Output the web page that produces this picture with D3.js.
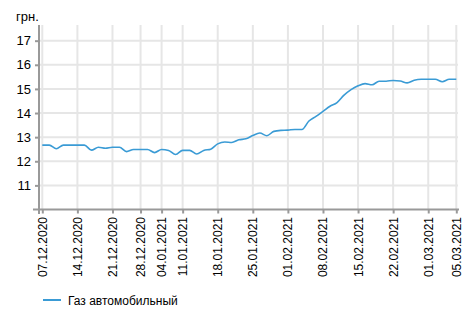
<!DOCTYPE html>
<html><head><meta charset="utf-8">
<script src="https://cdn.jsdelivr.net/npm/d3@7"></script>
<style>body{margin:0;background:#fff}svg{display:block}text{font-family:"Liberation Sans",Arial,sans-serif;fill:#000}</style>
</head><body>
<svg id="c" width="473" height="319"></svg>
<script>
const dates = ["07.12.2020","08.12.2020","09.12.2020","10.12.2020","11.12.2020",
"14.12.2020","15.12.2020","16.12.2020","17.12.2020","18.12.2020",
"21.12.2020","22.12.2020","23.12.2020","24.12.2020",
"28.12.2020","29.12.2020","30.12.2020",
"04.01.2021","05.01.2021","06.01.2021",
"11.01.2021","12.01.2021","13.01.2021","14.01.2021","15.01.2021",
"18.01.2021","19.01.2021","20.01.2021","21.01.2021","22.01.2021",
"25.01.2021","26.01.2021","27.01.2021","28.01.2021","29.01.2021",
"01.02.2021","02.02.2021","03.02.2021","04.02.2021","05.02.2021",
"08.02.2021","09.02.2021","10.02.2021","11.02.2021","12.02.2021",
"15.02.2021","16.02.2021","17.02.2021","18.02.2021","19.02.2021",
"22.02.2021","23.02.2021","24.02.2021","25.02.2021","26.02.2021",
"01.03.2021","02.03.2021","03.03.2021","04.03.2021","05.03.2021"];
const gasPrices = [12.67,12.67,12.52,12.67,12.67,
12.67,12.67,12.46,12.58,12.54,
12.58,12.58,12.40,12.49,
12.49,12.49,12.36,
12.49,12.45,12.28,
12.45,12.45,12.30,12.45,12.50,
12.72,12.80,12.78,12.89,12.93,
13.07,13.17,13.06,13.24,13.28,
13.29,13.32,13.32,13.67,13.86,
14.07,14.28,14.43,14.74,14.97,
15.13,15.22,15.17,15.32,15.32,
15.35,15.33,15.25,15.36,15.40,
15.40,15.40,15.30,15.40,15.40];
const xTickLabels = ["07.12.2020","14.12.2020","21.12.2020","28.12.2020","04.01.2021","11.01.2021","18.01.2021","25.01.2021","01.02.2021","08.02.2021","15.02.2021","22.02.2021","01.03.2021","05.03.2021"];
const yTicks = [11,12,13,14,15,16,17];
const seriesName = "Газ автомобильный";
const unitLabel = "грн.";

const svg = d3.select("#c");
const x = d3.scalePoint().domain(dates).range([42.3, 456.3]);
const y = d3.scaleLinear().domain([10, 17.65]).range([209.5, 25]);

// grid
const g = svg.append("g");
g.selectAll(".hg").data(yTicks).join("line")
 .attr("x1", 40).attr("x2", 458).attr("y1", d => y(d)).attr("y2", d => y(d))
 .attr("stroke", "#e6e6e6").attr("stroke-width", 2);
g.selectAll(".vg").data(xTickLabels).join("line")
 .attr("x1", d => x(d)).attr("x2", d => x(d)).attr("y1", 25).attr("y2", 209)
 .attr("stroke", "#e6e6e6").attr("stroke-width", 2);

// line
svg.append("path").datum(gasPrices)
 .attr("fill", "none").attr("stroke", "#3a9bd5").attr("stroke-width", 1.6)
 .attr("d", d3.line().x((d,i) => x(dates[i])).y(d => y(d)).curve(d3.curveMonotoneX));

// axes
const yAxis = d3.axisLeft(y).tickValues(yTicks).tickSize(4).tickPadding(4).tickFormat(d3.format("d"));
const ya = svg.append("g").attr("transform", "translate(39,0)").call(yAxis);
ya.select(".domain").remove();
ya.append("line").attr("x1", 0).attr("x2", 0).attr("y1", 25).attr("y2", 214).attr("stroke", "#999").attr("stroke-width", 2);
ya.selectAll(".tick line").attr("stroke", "#999").attr("stroke-width", 2);
ya.selectAll(".tick text").attr("font-size", 13).style("font-family", '"Liberation Sans",Arial,sans-serif').attr("fill", "#000");

const xAxis = d3.axisBottom(x).tickValues(xTickLabels).tickSize(4).tickFormat(d => "");
const xa = svg.append("g").attr("transform", "translate(0,209.5)").call(xAxis);
xa.select(".domain").remove();
xa.append("line").attr("x1", 33).attr("x2", 459).attr("y1", 0).attr("y2", 0).attr("stroke", "#999").attr("stroke-width", 2);
xa.selectAll(".tick line").attr("stroke", "#999").attr("stroke-width", 2);

svg.append("g").selectAll("text").data(xTickLabels).join("text")
 .attr("transform", d => `translate(${x(d) + 4.5},217) rotate(-90)`)
 .attr("text-anchor", "end").attr("font-size", 12).text(d => d);

svg.append("text").attr("x", 16).attr("y", 21).attr("font-size", 13).text(unitLabel);

// legend
svg.append("line").attr("x1", 43).attr("x2", 61).attr("y1", 300).attr("y2", 300)
 .attr("stroke", "#3a9bd5").attr("stroke-width", 2);
svg.append("text").attr("x", 68).attr("y", 304.5).attr("font-size", 12).text(seriesName);
</script>
</body></html>
